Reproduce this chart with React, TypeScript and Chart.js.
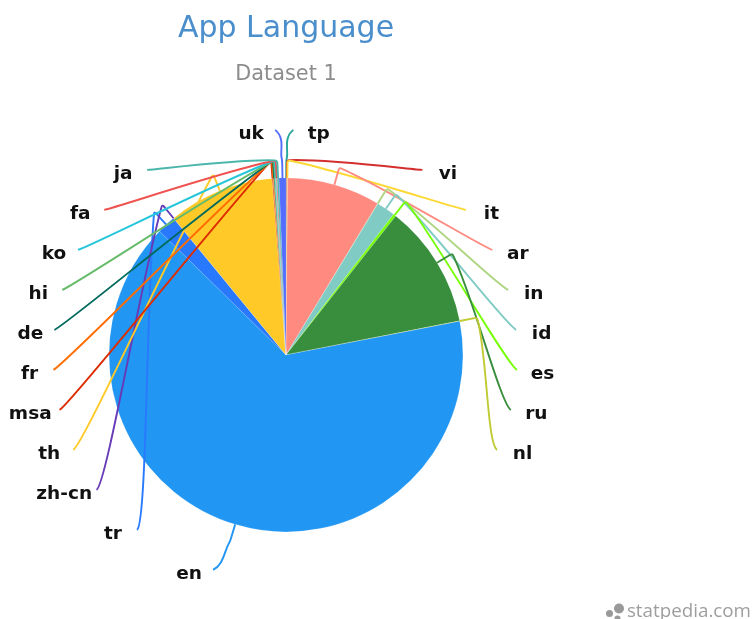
import React, { useEffect, useRef } from "react";
import { Chart, registerables } from "chart.js";

Chart.register(...registerables);

const titleText = "App Language";
const subtitleText = "Dataset 1";
const watermark = "statpedia.com";

const languages = ["tp", "vi", "it", "ar", "in", "id", "es", "ru", "nl", "en", "tr", "zh-cn", "th", "msa", "fr", "de", "hi", "ko", "fa", "ja", "uk"];
const shares = [0.05, 0.05, 0.05, 8.52, 0.03, 1.7, 0.25, 11.28, 0.03, 65.4, 1.7, 0.03, 9.7, 0.075, 0.075, 0.075, 0.075, 0.075, 0.075, 0.17, 0.63];
const colors = ["#26a69a", "#d32f2f", "#fdd835", "#ff8a80", "#aed581", "#80cbc4", "#76ff03", "#388e3c", "#c0ca33", "#2196f3", "#2979ff", "#673ab7", "#ffca28", "#dd2c00", "#ff6d00", "#00695c", "#66bb6a", "#26c6da", "#ef5350", "#4db6ac", "#536dfe"];

const rightCount = 9; // labels tp..nl sit in the right column, the rest in the left column

const leaderPlugin = {
  id: "leaders",
  afterDatasetsDraw(chart: any) {
    const ctx = chart.ctx as CanvasRenderingContext2D;
    const arcs = chart.getDatasetMeta(0).data;
    const rowStep = 40;
    const elbowGap = 18;
    ctx.save();
    arcs.forEach((arc: any, i: number) => {
      const p = arc.getProps(["x", "y", "startAngle", "endAngle", "outerRadius"], true);
      const mid = (p.startAngle + p.endAngle) / 2;
      const ux = Math.cos(mid);
      const uy = Math.sin(mid);
      const r = p.outerRadius;
      const ax = p.x + ux * r;
      const ay = p.y + uy * r;
      const ex = p.x + ux * (r + elbowGap);
      const ey = p.y + uy * (r + elbowGap);
      const right = i < rightCount;
      const sign = right ? 1 : -1;
      const row = right ? i : arcs.length - 1 - i;
      const dy = -225 + row * rowStep;
      const endRadius = (right ? 231.5 : 233) - Math.max(0, Math.abs(dy) - 130) * (dy > 0 ? 0.07 : 0.03);
      let tx: number;
      if (row === 0) tx = ex + sign * 7;
      else tx = p.x + sign * Math.sqrt(Math.max(0, endRadius * endRadius - dy * dy));
      const ty = p.y + dy;

      const len = Math.hypot(tx - ex, ty - ey);
      const dx0 = (tx - ex) / len;
      const dy0 = (ty - ey) / len;
      ctx.beginPath();
      ctx.moveTo(ax, ay);
      ctx.lineTo(ex - ux * 3, ey - uy * 3);
      const bx = ex + dx0 * 3;
      const by = ey + dy0 * 3;
      ctx.quadraticCurveTo(ex, ey, bx, by);
      const bump = row === 0 ? 0 : 4;
      ctx.bezierCurveTo(
        ex + ux * bump + dx0 * len * 0.3,
        ey + uy * bump + dy0 * len * 0.3,
        tx - sign * 10,
        ty - (row === 0 ? -8 : dy0 * 6),
        tx,
        ty
      );
      ctx.strokeStyle = colors[i];
      ctx.lineWidth = 1.9;
      ctx.lineJoin = "round";
      ctx.stroke();

      const text = languages[i];
      ctx.font = "bold 18.5px 'DejaVu Sans'";
      ctx.textAlign = "center";
      ctx.textBaseline = "middle";
      ctx.fillStyle = "#111111";
      const w = ctx.measureText(text).width;
      const gap = w > 30 ? 19.5 + w * 0.23 : right ? 25.5 : 24;
      ctx.fillText(text, tx + sign * gap, ty + 4);
    });
    ctx.restore();
  },
};

const watermarkPlugin = {
  id: "watermark",
  afterDraw(chart: any) {
    const ctx = chart.ctx as CanvasRenderingContext2D;
    ctx.save();
    ctx.fillStyle = "#999999";
    [[619, 608.5, 5], [609.5, 613.5, 3.5], [617.5, 618.5, 3]].forEach(([x, y, r]) => {
      ctx.beginPath();
      ctx.arc(x, y, r, 0, Math.PI * 2);
      ctx.fill();
    });
    ctx.font = "18.8px 'Open Sans'";
    ctx.fillStyle = "#9e9e9e";
    ctx.textAlign = "right";
    ctx.textBaseline = "alphabetic";
    ctx.fillText(watermark, 751, 617);
    ctx.restore();
  },
};

export default function App() {
  const ref = useRef<HTMLCanvasElement>(null);
  useEffect(() => {
    const prev = document.body.style.margin;
    document.body.style.margin = "0";
    const chart = new Chart(ref.current!, {
      type: "pie",
      data: {
        labels: languages,
        datasets: [{ data: shares, backgroundColor: colors, borderColor: "#ffffff", borderWidth: 0.12 }],
      },
      options: {
        animation: false,
        responsive: false,
        layout: { padding: { left: 109, right: 289, top: 8, bottom: 87 } },
        plugins: {
          legend: { display: false },
          tooltip: { enabled: false },
          title: {
            display: true,
            text: titleText,
            color: "#4a8fcc",
            font: { family: "'DejaVu Sans'", size: 30, weight: "normal" },
            padding: { top: 3, bottom: 15 },
          },
          subtitle: {
            display: true,
            text: subtitleText,
            color: "#8c8c8c",
            font: { family: "'DejaVu Sans'", size: 20.8, weight: "normal" },
            padding: { top: 0, bottom: 90.8 },
          },
        },
      },
      plugins: [leaderPlugin, watermarkPlugin],
    } as any);
    return () => {
      chart.destroy();
      document.body.style.margin = prev;
    };
  }, []);
  return <canvas ref={ref} width={752} height={619} style={{ display: "block" }} />;
}
